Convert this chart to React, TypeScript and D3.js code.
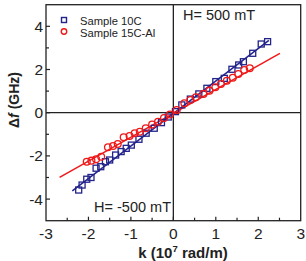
import React, { useEffect, useRef } from "react";
import * as d3 from "d3";

// sample 10C (squares)
const k10C = [-2.23, -2.15, -2.04, -1.94, -1.82, -1.71, -1.6, -1.5, -1.36, -1.23, -1.11, -0.99, -0.81, -0.64, -0.45, -0.28, -0.12, 0.05, 0.2, 0.4, 0.6, 0.79, 1.0, 1.2, 1.38, 1.54, 1.65, 1.87, 2.07, 2.22];
const f10C = [-3.58, -3.35, -3.08, -3.0, -2.57, -2.5, -2.27, -2.19, -1.96, -1.8, -1.65, -1.5, -1.23, -0.95, -0.72, -0.46, -0.2, 0.05, 0.36, 0.63, 0.87, 1.13, 1.44, 1.59, 2.01, 2.21, 2.36, 2.75, 3.18, 3.29];

// sample 15C-Al (circles)
const k15C = [-2.04, -1.93, -1.82, -1.7, -1.54, -1.42, -1.31, -1.17, -1.03, -0.91, -0.79, -0.65, -0.5, -0.36, -0.22, -0.08, 0.08, 0.26, 0.4, 0.53, 0.71, 0.85, 0.99, 1.12, 1.26, 1.4, 1.53, 1.67, 1.8];
const f15C = [-2.27, -2.22, -2.16, -2.04, -1.6, -1.54, -1.45, -1.14, -1.08, -0.95, -0.88, -0.72, -0.55, -0.42, -0.25, -0.08, 0.12, 0.44, 0.59, 0.71, 0.87, 1.02, 1.18, 1.33, 1.48, 1.62, 1.79, 1.98, 2.06];

// linear fits: [k start, f start, k end, f end]
const fit10C = [-2.38, -3.62, 2.25, 3.35];
const fit15C = [-2.68, -2.99, 2.51, 2.75];

const xTicks = [-3, -2, -1, 0, 1, 2, 3];
const yTicks = [-4, -2, 0, 2, 4];

const BLUE = "#23238c";
const RED = "#f01818";

export default function App() {
  const ref = useRef<SVGSVGElement>(null);

  useEffect(() => {
    const svg = d3.select(ref.current);
    svg.selectAll("*").remove();

    const left = 46, right = 300.7, top = 4.7, bottom = 220.7;
    const x = d3.scaleLinear().domain([-3, 3]).range([left, right]);
    const y = d3.scaleLinear().domain([-5, 5]).range([bottom, top]);
    const font = "Liberation Sans, Arial, sans-serif";

    // frame and zero lines
    svg.append("rect")
      .attr("x", left).attr("y", top)
      .attr("width", right - left).attr("height", bottom - top)
      .attr("fill", "none").attr("stroke", "#222").attr("stroke-width", 1.3);
    svg.append("line")
      .attr("x1", x(0)).attr("x2", x(0)).attr("y1", top).attr("y2", bottom)
      .attr("stroke", "#222").attr("stroke-width", 1.3);
    svg.append("line")
      .attr("x1", left).attr("x2", right).attr("y1", y(0)).attr("y2", y(0))
      .attr("stroke", "#222").attr("stroke-width", 1.3);

    // ticks inside the frame (major + minor)
    const ticks = svg.append("g").attr("stroke", "#222").attr("stroke-width", 1.2);
    d3.range(-2.5, 3, 0.5).forEach((v) => {
      const len = Number.isInteger(v) ? 4 : 3;
      ticks.append("line").attr("x1", x(v)).attr("x2", x(v)).attr("y1", bottom).attr("y2", bottom - len);
    });
    d3.range(-4, 5, 1).forEach((v) => {
      const len = v % 2 === 0 ? 4 : 3;
      ticks.append("line").attr("x1", left).attr("x2", left + len).attr("y1", y(v)).attr("y2", y(v));
    });

    // tick labels
    svg.append("g").selectAll("text").data(xTicks).join("text")
      .attr("x", (d) => x(d)).attr("y", 239)
      .attr("text-anchor", "middle")
      .attr("font-family", font).attr("font-size", 15.5).attr("fill", "#222")
      .text((d) => d);
    svg.append("g").selectAll("text").data(yTicks).join("text")
      .attr("x", 43).attr("y", (d) => y(d) + 5.5)
      .attr("text-anchor", "end")
      .attr("font-family", font).attr("font-size", 15.5).attr("fill", "#222")
      .text((d) => d);

    // axis titles
    const xt = svg.append("text")
      .attr("x", 183).attr("y", 258)
      .attr("text-anchor", "middle")
      .attr("font-family", font).attr("font-size", 15).attr("font-weight", "bold").attr("fill", "#222");
    xt.append("tspan").text("k (10");
    xt.append("tspan").attr("font-size", 9.5).attr("dy", -6).text("7");
    xt.append("tspan").attr("dy", 6).text(" rad/m)");

    const yt = svg.append("text")
      .attr("transform", `translate(19,100) rotate(-90)`)
      .attr("text-anchor", "middle")
      .attr("font-family", font).attr("font-size", 14).attr("font-weight", "bold").attr("fill", "#222");
    yt.append("tspan").text("\u0394");
    yt.append("tspan").attr("font-style", "italic").text("f");
    yt.append("tspan").text(" (GHz)");

    // fit lines
    const line = d3.line<[number, number]>().x((d) => x(d[0])).y((d) => y(d[1]));
    svg.append("path")
      .attr("d", line([[fit10C[0], fit10C[1]], [fit10C[2], fit10C[3]]]))
      .attr("stroke", BLUE).attr("stroke-width", 1.5).attr("fill", "none");
    svg.append("path")
      .attr("d", line([[fit15C[0], fit15C[1]], [fit15C[2], fit15C[3]]]))
      .attr("stroke", RED).attr("stroke-width", 1.5).attr("fill", "none");

    // markers
    const s = 6;
    svg.append("g").selectAll("rect").data(k10C.map((k, i) => [k, f10C[i]])).join("rect")
      .attr("x", (d) => x(d[0]) - s / 2).attr("y", (d) => y(d[1]) - s / 2)
      .attr("width", s).attr("height", s)
      .attr("fill", "none").attr("stroke", BLUE).attr("stroke-width", 1.3);
    svg.append("g").selectAll("circle").data(k15C.map((k, i) => [k, f15C[i]])).join("circle")
      .attr("cx", (d) => x(d[0])).attr("cy", (d) => y(d[1])).attr("r", 3.4)
      .attr("fill", "none").attr("stroke", RED).attr("stroke-width", 1.3);

    // legend
    svg.append("rect").attr("x", 61.5).attr("y", 17.5).attr("width", 5).attr("height", 5)
      .attr("fill", "none").attr("stroke", BLUE).attr("stroke-width", 1.4);
    svg.append("circle").attr("cx", 64).attr("cy", 31.5).attr("r", 2.7)
      .attr("fill", "none").attr("stroke", RED).attr("stroke-width", 1.4);
    svg.append("text").attr("x", 80).attr("y", 24.5)
      .attr("font-family", font).attr("font-size", 11.2).attr("fill", "#222").text("Sample 10C");
    svg.append("text").attr("x", 80).attr("y", 36.5)
      .attr("font-family", font).attr("font-size", 11.2).attr("fill", "#222").text("Sample 15C-Al");

    // field labels
    svg.append("text").attr("x", 183).attr("y", 20)
      .attr("font-family", font).attr("font-size", 14.5).attr("fill", "#222").text("H= 500 mT");
    svg.append("text").attr("x", 171).attr("y", 211.5).attr("text-anchor", "end")
      .attr("font-family", font).attr("font-size", 14.5).attr("fill", "#222").text("H= -500 mT");
  }, []);

  return (
    <svg
      ref={ref}
      width={306}
      height={261}
      style={{ position: "absolute", left: 0, top: 0, background: "#fff" }}
    />
  );
}
